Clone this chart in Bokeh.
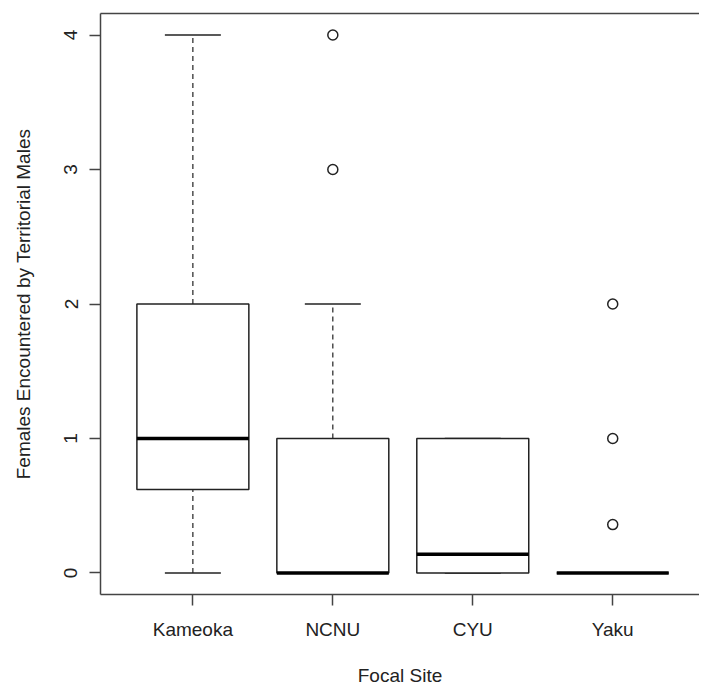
from bokeh.plotting import figure
from bokeh.models import Range1d, FixedTicker, ColumnDataSource, LinearAxis
from bokeh.embed import file_html
from bokeh.resources import INLINE

sites = ["Kameoka", "NCNU", "CYU", "Yaku"]
lower_whisker = [0, 0, 0, 0]
q1 = [0.62, 0, 0, 0]
median = [1, 0, 0.14, 0]
q3 = [2, 1, 1, 0]
upper_whisker = [4, 2, 1, 0]
outlier_site = ["NCNU", "NCNU", "Yaku", "Yaku", "Yaku"]
outlier_value = [4, 3, 2, 1, 0.36]
y_ticks = [0, 1, 2, 3, 4]

pos = [i + 1 for i in range(len(sites))]
half = 0.4
cap = 0.2
src = ColumnDataSource(dict(
    x=pos, left=[p - half for p in pos], right=[p + half for p in pos],
    cl=[p - cap for p in pos], cr=[p + cap for p in pos],
    lw=lower_whisker, q1=q1, med=median, q3=q3, uw=upper_whisker))
out_x = [pos[sites.index(s)] for s in outlier_site]

FONT = "Liberation Sans"
INK = "#222222"
FRAME = "#444444"

p = figure(width=699, height=688, output_backend="svg", toolbar_location=None,
           x_range=Range1d(0.34, 4.62), y_range=Range1d(-0.16, 4.16),
           min_border_left=100, min_border_top=13, min_border_right=0, min_border_bottom=93)
p.grid.visible = False
p.outline_line_color = None
p.background_fill_color = "white"
p.border_fill_color = "white"

# whiskers
p.segment(x0="x", y0="q3", x1="x", y1="uw", source=src, line_color=INK, line_width=1.2, line_dash="5 4")
p.segment(x0="x", y0="lw", x1="x", y1="q1", source=src, line_color=INK, line_width=1.2, line_dash="5 4")
p.segment(x0="cl", y0="uw", x1="cr", y1="uw", source=src, line_color=INK, line_width=1.5)
p.segment(x0="cl", y0="lw", x1="cr", y1="lw", source=src, line_color=INK, line_width=1.5)
# boxes
p.quad(left="left", right="right", bottom="q1", top="q3", source=src,
       fill_color="white", line_color=INK, line_width=1.5)
# medians
p.segment(x0="left", y0="med", x1="right", y1="med", source=src, line_color="black", line_width=3.5)
# outliers
p.scatter(out_x, outlier_value, marker="circle", size=10, fill_color=None, line_color=INK, line_width=1.5)

bottom = p.below[0]
left = p.left[0]
for ax in (bottom, left):
    ax.axis_line_color = FRAME
    ax.axis_line_width = 1.5
    ax.major_tick_line_color = FRAME
    ax.major_tick_line_width = 1.5
    ax.major_tick_out = 11
    ax.major_tick_in = 0
    ax.minor_tick_line_color = None
    ax.major_label_text_font = FONT
    ax.major_label_text_font_size = "19px"
    ax.major_label_text_color = INK
    ax.axis_label_text_font = FONT
    ax.axis_label_text_font_size = "19px"
    ax.axis_label_text_font_style = "normal"
    ax.axis_label_text_color = INK

top_axis = LinearAxis(ticker=FixedTicker(ticks=[]), axis_line_color=FRAME, axis_line_width=1.5,
                      major_tick_line_color=None, minor_tick_line_color=None,
                      major_tick_out=0, major_label_standoff=0)
p.add_layout(top_axis, "above")

bottom.ticker = FixedTicker(ticks=pos)
bottom.major_label_overrides = {pp: s for pp, s in zip(pos, sites)}
bottom.major_label_standoff = 13
bottom.axis_label = "Focal Site"
bottom.axis_label_standoff = 22

left.ticker = FixedTicker(ticks=y_ticks)
left.major_label_orientation = "vertical"
left.major_label_standoff = 12
left.axis_label = "Females Encountered by Territorial Males"
left.axis_label_standoff = 28

open("out.html", "w").write(file_html(p, INLINE))
